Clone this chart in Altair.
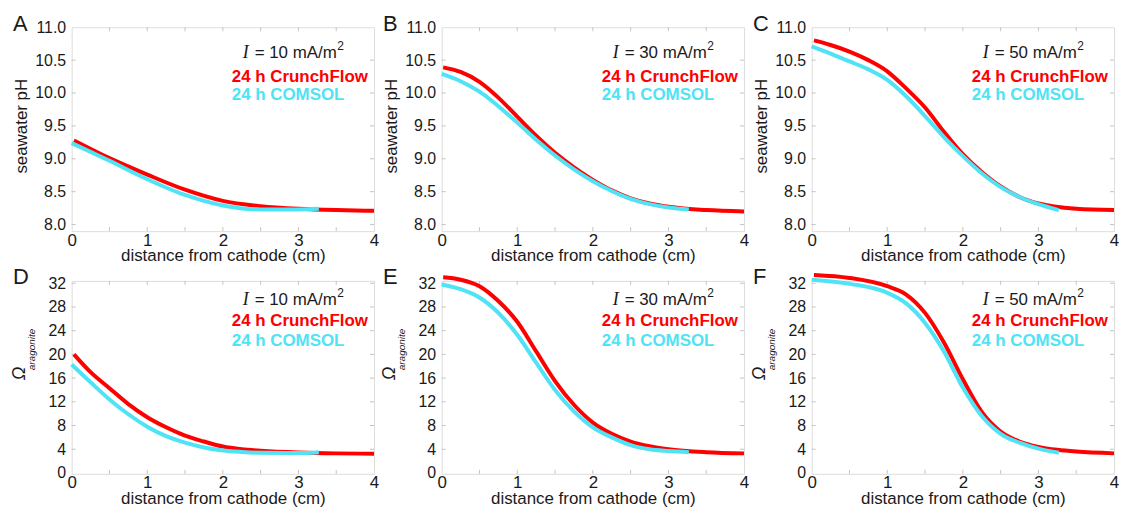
import altair as alt
import pandas as pd

# ---------------- data ----------------
X_TICKS = [0.5, 1.0, 1.5, 2.0, 2.5, 3.0, 3.5]
X_LABELS = [0, 1, 2, 3, 4]
PH_LABELS = [8.0, 8.5, 9.0, 9.5, 10.0, 10.5, 11.0]
PH_TICKS = [8.0, 8.5, 9.0, 9.5, 10.0, 10.5]
OMEGA_LABELS = [0, 4, 8, 12, 16, 20, 24, 28, 32]
OMEGA_TICKS = [4, 8, 12, 16, 20, 24, 28, 32]

LETTERS = ["A", "B", "C", "D", "E", "F"]
CURRENTS = ["10", "30", "50", "10", "30", "50"]
SERIES_NAMES = ["24 h CrunchFlow", "24 h COMSOL"]

# Panel A: pH, I = 10
a_cf_x = [0.03, 0.5, 1.0, 1.5, 2.0, 2.5, 3.0, 3.5, 4.0]
a_cf_y = [9.28, 9.01, 8.76, 8.53, 8.36, 8.28, 8.24, 8.22, 8.21]
a_co_x = [0.0, 0.5, 1.0, 1.5, 2.0, 2.5, 3.0, 3.27]
a_co_y = [9.24, 8.97, 8.69, 8.45, 8.29, 8.23, 8.23, 8.24]

# Panel B: pH, I = 30
b_cf_x = [0.02, 0.25, 0.5, 0.75, 1.0, 1.25, 1.5, 1.75, 2.0, 2.25, 2.5, 2.75, 3.0, 3.5, 4.0]
b_cf_y = [10.39, 10.32, 10.17, 9.93, 9.64, 9.35, 9.09, 8.87, 8.68, 8.52, 8.40, 8.32, 8.27, 8.22, 8.20]
b_co_x = [0.0, 0.25, 0.5, 0.75, 1.0, 1.25, 1.5, 1.75, 2.0, 2.25, 2.5, 2.75, 3.0, 3.27]
b_co_y = [10.29, 10.18, 10.02, 9.80, 9.55, 9.29, 9.05, 8.84, 8.66, 8.51, 8.39, 8.31, 8.26, 8.23]

# Panel C: pH, I = 50
c_cf_x = [0.03, 0.25, 0.5, 0.75, 1.0, 1.25, 1.5, 1.75, 2.0, 2.25, 2.5, 2.75, 3.0, 3.5, 4.0]
c_cf_y = [10.80, 10.73, 10.63, 10.50, 10.33, 10.07, 9.78, 9.41, 9.07, 8.80, 8.58, 8.42, 8.32, 8.24, 8.22]
c_co_x = [0.0, 0.25, 0.5, 0.75, 1.0, 1.25, 1.5, 1.75, 2.0, 2.25, 2.5, 2.75, 3.0, 3.27]
c_co_y = [10.71, 10.60, 10.48, 10.36, 10.20, 9.95, 9.65, 9.33, 9.04, 8.78, 8.57, 8.42, 8.31, 8.22]

# Panel D: Omega, I = 10
d_cf_x = [0.03, 0.25, 0.5, 0.75, 1.0, 1.25, 1.5, 1.75, 2.0, 2.25, 2.5, 3.0, 3.5, 4.0]
d_cf_y = [20.0, 17.0, 14.3, 11.6, 9.4, 7.7, 6.3, 5.3, 4.45, 4.0, 3.75, 3.45, 3.3, 3.25]
d_co_x = [0.0, 0.25, 0.5, 0.75, 1.0, 1.25, 1.5, 1.75, 2.0, 2.25, 2.5, 3.0, 3.27]
d_co_y = [18.3, 15.3, 12.4, 9.9, 7.8, 6.2, 5.1, 4.3, 3.8, 3.55, 3.4, 3.35, 3.5]

# Panel E: Omega, I = 30
e_cf_x = [0.02, 0.25, 0.5, 0.75, 1.0, 1.25, 1.5, 1.75, 2.0, 2.25, 2.5, 2.75, 3.0, 3.5, 4.0]
e_cf_y = [33.0, 32.6, 31.5, 29.0, 25.5, 20.5, 15.5, 11.5, 8.5, 6.6, 5.3, 4.5, 4.0, 3.5, 3.3]
e_co_x = [0.0, 0.25, 0.5, 0.75, 1.0, 1.25, 1.5, 1.75, 2.0, 2.25, 2.5, 2.75, 3.0, 3.27]
e_co_y = [31.8, 31.0, 29.6, 27.0, 23.3, 18.6, 14.0, 10.4, 7.7, 6.0, 4.7, 4.0, 3.7, 3.5]

# Panel F: Omega, I = 50
f_cf_x = [0.03, 0.5, 1.0, 1.25, 1.5, 1.75, 2.0, 2.25, 2.5, 2.75, 3.0, 3.25, 3.5, 4.0]
f_cf_y = [33.4, 32.9, 31.5, 30.1, 27.0, 22.0, 15.8, 10.3, 7.0, 5.3, 4.4, 3.9, 3.6, 3.3]
f_co_x = [0.0, 0.5, 1.0, 1.25, 1.5, 1.75, 2.0, 2.25, 2.5, 2.75, 3.0, 3.27]
f_co_y = [32.6, 31.9, 30.4, 28.6, 25.3, 20.5, 14.4, 9.6, 6.6, 5.1, 4.1, 3.4]

CURVES = [
    (a_cf_x, a_cf_y, a_co_x, a_co_y),
    (b_cf_x, b_cf_y, b_co_x, b_co_y),
    (c_cf_x, c_cf_y, c_co_x, c_co_y),
    (d_cf_x, d_cf_y, d_co_x, d_co_y),
    (e_cf_x, e_cf_y, e_co_x, e_co_y),
    (f_cf_x, f_cf_y, f_co_x, f_co_y),
]

# ---------------- styling ----------------
RED = "#ff0000"
CYAN = "#4fe3f5"
INK = "#1a1a1a"
FRAME = "#c4c4c4"
FONT = "Liberation Sans"
W = 304
H_TOP = 205
H_BOT = 194


def text_layer(txt, x, y, **kw):
    return alt.Chart(pd.DataFrame({"t": [txt]})).mark_text(
        align=kw.pop("align", "left"), baseline=kw.pop("baseline", "alphabetic"),
        font=kw.pop("font", FONT), **kw
    ).encode(text="t:N", x=alt.value(x), y=alt.value(y))


def make_panel(i):
    row = i // 3
    H = H_TOP if row == 0 else H_BOT
    cf_x, cf_y, co_x, co_y = CURVES[i]

    xscale = alt.Scale(domain=[0, 4], nice=False, zero=False)
    xaxis = alt.Axis(values=X_LABELS, format="d", title="distance from cathode (cm)",
                     ticks=False, domain=False, grid=False, labelFlush=False,
                     labelFontSize=17, labelPadding=1, labelColor=INK,
                     titleFontSize=17, titleFontWeight="normal", titleColor=INK,
                     titlePadding=0, labelFont=FONT, titleFont=FONT)
    if row == 0:
        yscale = alt.Scale(domain=[7.9, 11.0], nice=False, zero=False)
        yaxis = alt.Axis(values=PH_LABELS, format=".1f", title="seawater pH",
                         ticks=False, domain=False, grid=False, labelFlush=False,
                         labelFontSize=16, labelPadding=6, labelColor=INK,
                         titleFontSize=17, titleFontWeight="normal", titleColor=INK,
                         titlePadding=4, titleY=99, labelFont=FONT, titleFont=FONT)
        yt = PH_TICKS
    else:
        yscale = alt.Scale(domain=[-0.15, 32.4], nice=False, zero=False)
        yaxis = alt.Axis(values=OMEGA_LABELS, format="d", title=None,
                         ticks=False, domain=False, grid=False, labelFlush=False,
                         labelFontSize=16, labelPadding=6, labelColor=INK,
                         labelFont=FONT)
        yt = OMEGA_TICKS

    X = alt.X("x:Q", scale=xscale, axis=xaxis)
    Y = alt.Y("y:Q", scale=yscale, axis=yaxis)

    xt_df = pd.DataFrame({"x": X_TICKS})
    yt_df = pd.DataFrame({"y": yt})
    tick_style = dict(color=FRAME, strokeWidth=1)
    ticks = [
        alt.Chart(xt_df).mark_rule(**tick_style).encode(x=X, y=alt.value(H), y2=alt.value(H - 4)),
        alt.Chart(xt_df).mark_rule(**tick_style).encode(x=X, y=alt.value(0), y2=alt.value(4)),
        alt.Chart(yt_df).mark_rule(**tick_style).encode(y=Y, x=alt.value(0), x2=alt.value(4)),
        alt.Chart(yt_df).mark_rule(**tick_style).encode(y=Y, x=alt.value(W), x2=alt.value(W - 4)),
    ]

    cf = alt.Chart(pd.DataFrame({"x": cf_x, "y": cf_y})).mark_line(
        color=RED, strokeWidth=4, interpolate="monotone"
    ).encode(x=X, y=Y)
    co = alt.Chart(pd.DataFrame({"x": co_x, "y": co_y})).mark_line(
        color=CYAN, strokeWidth=4, interpolate="monotone"
    ).encode(x=X, y=Y)

    if row == 0:
        yi, ysup, ycf, yco = 31, 23, 55, 73
    else:
        yi, ysup, ycf, yco = 24, 16, 45, 65

    texts = [
        text_layer(LETTERS[i], -59, 4 if row == 0 else 3, fontSize=22, color=INK),
        text_layer("I", 172, yi, fontSize=18, font="Liberation Serif", fontStyle="italic", color=INK),
        text_layer("= " + CURRENTS[i] + " mA/m", 184, yi, fontSize=17, color=INK),
        text_layer("2", 267, ysup, fontSize=12, color=INK),
        text_layer(SERIES_NAMES[0], 161, ycf, fontSize=17, fontWeight="bold", color=RED),
        text_layer(SERIES_NAMES[1], 161, yco, fontSize=17, fontWeight="bold", color=CYAN),
    ]
    if row == 1:
        texts += [
            text_layer("\u03a9", -47, 93, fontSize=18, fontStyle="italic", align="center",
                       angle=270, color=INK),
            text_layer("aragonite", -37, 69, fontSize=10, fontStyle="italic", align="center",
                       angle=270, color=INK),
        ]

    return alt.layer(*ticks, cf, co, *texts).properties(width=W, height=H)


panels = [make_panel(i) for i in range(6)]

chart = alt.concat(*panels, columns=3, spacing={"row": 50, "column": 68}, bounds="flush").properties(
    padding={"left": 2, "top": 3, "right": -4, "bottom": 0}
).configure_view(stroke=FRAME, strokeWidth=1).configure(font=FONT, background="white")

chart.save("out.html", embed_options={"renderer": "svg", "actions": False})
